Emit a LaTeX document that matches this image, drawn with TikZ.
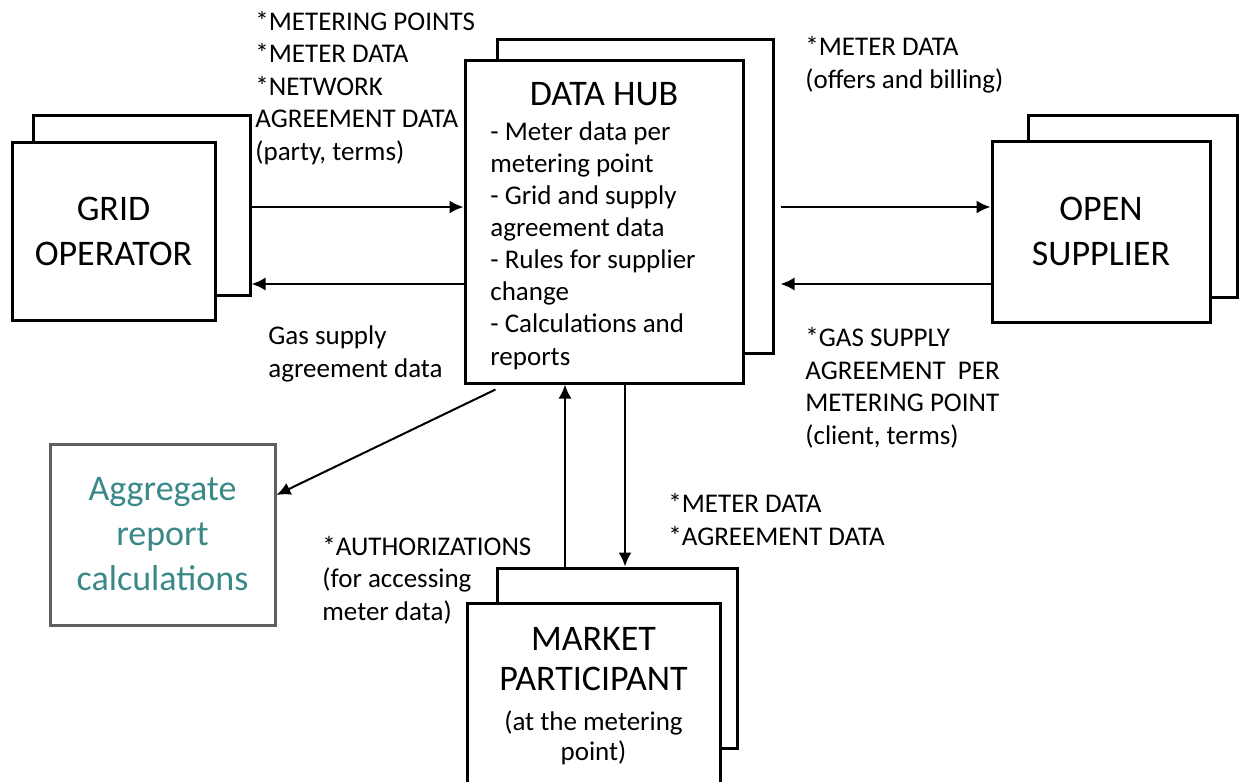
\documentclass[tikz,border=0pt]{standalone}
\usepackage{fontspec}
\setmainfont{Carlito}
\usetikzlibrary{arrows.meta,calc}

\definecolor{aggrteal}{RGB}{58,136,136}
\definecolor{aggrgray}{RGB}{95,95,95}
\newcommand{\lblfont}{\fontsize{13.5}{16.2}\selectfont}
\newcommand{\boxfont}{\fontsize{18}{22.5}\selectfont}

\begin{document}
\begin{tikzpicture}[x=0.5pt, y=-0.5pt,
    box/.style={draw, line width=1.5pt, fill=white, inner sep=0pt},
    flow/.style={line width=1pt, -{Latex[length=7pt,width=6.5pt]}},
    lbl/.style={font=\lblfont, align=left, anchor=base west, inner sep=0pt}]
    \path[use as bounding box] (0,0) rectangle (1239,782);
    \clip (0,0) rectangle (1239,782);

    % GRID OPERATOR
    \node[box, minimum width=108.5pt, minimum height=90pt] (gridback) at (141.5,205) {};
    \node[box, minimum width=101.5pt, minimum height=89pt, font=\boxfont, align=center] (grid) at (113.5,231) {GRID\\OPERATOR};

    % DATA HUB
    \node[box, minimum width=138pt, minimum height=157pt] (hubback) at (635,196) {};
    \node[box, minimum width=139pt, minimum height=161.5pt] (hub) at (604,221.5) {};
    \node[font=\boxfont, anchor=base, inner sep=0pt] (hubtitle) at (604,105) {DATA HUB};
    \node[lbl, font=\fontsize{13.5}{16.05}\selectfont] (hubtext) at (490,365)
        {- Meter data per\\metering point\\- Grid and supply\\agreement data\\- Rules for supplier\\change\\- Calculations and\\reports};

    % OPEN SUPPLIER
    \node[box, minimum width=104.5pt, minimum height=91pt] (supplierback) at (1132.5,206) {};
    \node[box, minimum width=109pt, minimum height=90.5pt, font=\boxfont, align=center] (supplier) at (1101,231.5) {OPEN\\SUPPLIER};

    % MARKET PARTICIPANT
    \node[box, minimum width=120pt, minimum height=90pt] (marketback) at (617,658) {};
    \node[box, minimum width=126.5pt, minimum height=91.5pt] (market) at (593.5,694.5) {};
    \node[font=\fontsize{18}{20}\selectfont, align=center, anchor=base, inner sep=0pt] (markettext) at (593.5,760)
        {MARKET\\PARTICIPANT\\\lblfont (at the metering\\[-5pt]\lblfont point)};

    % Aggregate report
    \node[draw=aggrgray, line width=1.5pt, minimum width=112.5pt, minimum height=90.5pt,
        font=\boxfont, text=aggrteal, align=center] (aggr) at (162.5,534.5) {Aggregate\\report\\calculations};

    % labels
    \node[lbl] (gridlbl) at (255,160) {*METERING POINTS\\*METER DATA\\*NETWORK\\AGREEMENT DATA\\(party, terms)};
    \node[lbl] (offerlbl) at (805,88) {*METER DATA\\(offers and billing)};
    \node[lbl] (gaslbl) at (268,377) {Gas supply\\agreement data};
    \node[lbl] (supplylbl) at (805,444) {*GAS SUPPLY\\AGREEMENT\ \ PER\\METERING POINT\\(client, terms)};
    \node[lbl] (marketlbl) at (668,545) {*METER DATA\\*AGREEMENT DATA};
    \node[lbl] (authlbl) at (322,620) {*AUTHORIZATIONS\\(for accessing\\meter data)};

    % arrows
    \coordinate (toprow) at (0,207);
    \coordinate (lowrow) at (0,284);
    \coordinate (upcol) at (565,0);
    \coordinate (downcol) at (625,0);
    \draw[flow] (gridback.east |- toprow) -- (hub.west |- toprow);
    \draw[flow] (hub.west |- lowrow) -- (gridback.east |- lowrow);
    \draw[flow, shorten <=3pt] (hubback.east |- toprow) -- (supplier.west |- toprow);
    \draw[flow, shorten >=3pt] (supplier.west |- lowrow) -- (hubback.east |- lowrow);
    \draw[flow] (marketback.north -| upcol) -- (hub.south -| upcol);
    \draw[flow] (hub.south -| downcol) -- (marketback.north -| downcol);
    \draw[flow] ($(hub.south west)+(32,5)$) -- ($(aggr.east)+(0,-39.5)$);
\end{tikzpicture}
\end{document}
